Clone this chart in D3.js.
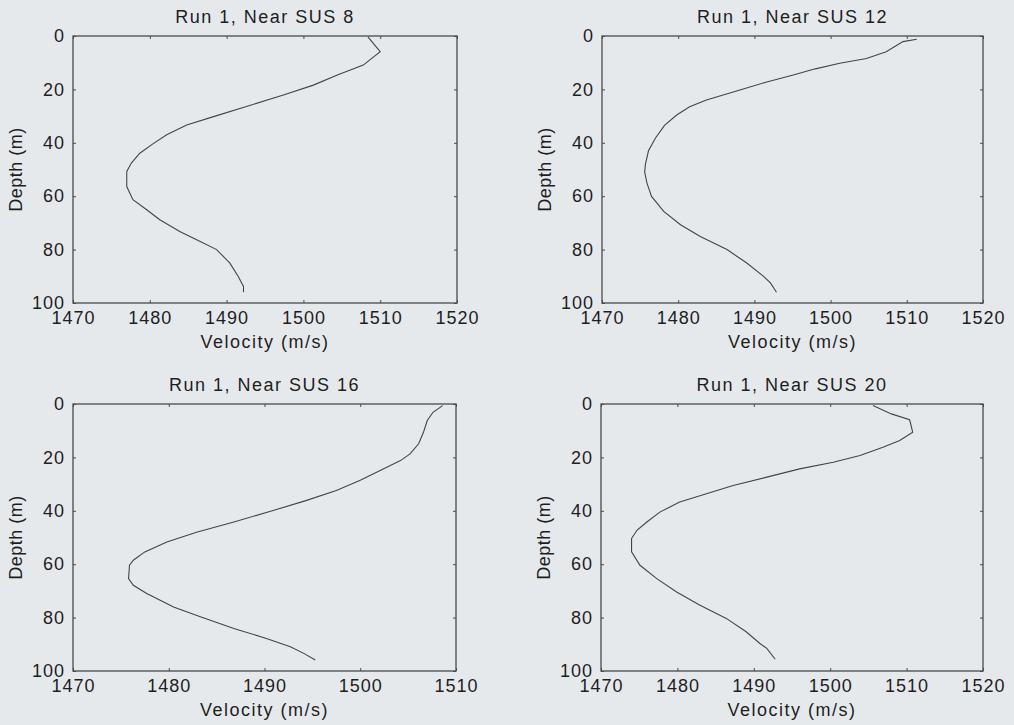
<!DOCTYPE html>
<html>
<head>
<meta charset="utf-8">
<script src="https://cdn.jsdelivr.net/npm/d3@7"></script>
<style>
  html, body { margin: 0; padding: 0; background: #e6e9ec; }
  svg { display: block; font-family: "Liberation Sans", Arial, sans-serif; }
  .axis path, .axis line { stroke: #4a4a4a; }
  .axis text { fill: #1e1e1e; font-size: 18px; letter-spacing: 1px; }
  .lbl { fill: #1e1e1e; font-size: 18px; letter-spacing: 1.5px; }
</style>
</head>
<body>
<script>
// Sound velocity profiles (velocity m/s, depth m)
const sus8Vel = [1508.4, 1510.0, 1507.8, 1504.5, 1501.3, 1497.5, 1493.0, 1488.3, 1484.8, 1482.2, 1480.4, 1478.7, 1477.6, 1477.0, 1477.0, 1477.8, 1479.6, 1481.3, 1483.9, 1486.5, 1488.7, 1490.4, 1491.5, 1492.2, 1492.2];
const sus8Dep = [0.3, 5.9, 10.9, 14.5, 18.4, 22.0, 26.0, 30.2, 33.3, 37.0, 40.4, 43.9, 47.6, 50.7, 56.4, 61.3, 65.1, 68.8, 73.2, 76.9, 80.0, 85.0, 90.0, 93.8, 96.0];

const sus12Vel = [1511.3, 1509.5, 1507.3, 1504.7, 1501.2, 1498.0, 1495.1, 1491.5, 1488.1, 1483.7, 1481.5, 1479.8, 1478.2, 1477.0, 1476.1, 1475.7, 1475.6, 1475.9, 1476.5, 1478.1, 1480.3, 1482.9, 1486.4, 1489.0, 1491.2, 1492.1, 1492.9];
const sus12Dep = [1.2, 2.1, 5.9, 8.4, 10.2, 12.3, 14.6, 17.3, 20.2, 24.0, 26.5, 29.6, 33.5, 38.3, 43.0, 48.0, 51.0, 55.1, 60.1, 65.7, 70.7, 75.1, 80.0, 85.0, 90.0, 92.5, 96.0];

const sus16Vel = [1508.6, 1507.6, 1507.0, 1506.6, 1506.1, 1505.2, 1504.2, 1502.4, 1500.0, 1497.5, 1494.4, 1490.9, 1486.8, 1482.9, 1479.8, 1477.5, 1476.3, 1475.9, 1475.8, 1476.3, 1477.7, 1480.5, 1483.3, 1486.8, 1490.2, 1492.7, 1494.1, 1495.3];
const sus16Dep = [0.6, 3.1, 6.2, 10.6, 14.9, 18.7, 21.2, 24.3, 28.6, 32.4, 36.1, 39.9, 44.2, 48.0, 51.7, 55.4, 58.5, 60.4, 65.4, 67.9, 71.0, 76.0, 79.7, 84.1, 87.8, 90.9, 93.4, 95.9];

const sus20Vel = [1505.6, 1508.0, 1510.4, 1510.8, 1509.1, 1506.9, 1503.9, 1500.4, 1496.0, 1491.7, 1487.3, 1483.8, 1480.3, 1477.7, 1476.0, 1474.7, 1474.0, 1474.0, 1475.1, 1477.3, 1479.9, 1482.9, 1486.4, 1489.0, 1490.8, 1491.7, 1492.8];
const sus20Dep = [0.6, 3.7, 5.9, 10.6, 13.7, 16.2, 19.3, 21.8, 24.3, 27.4, 30.5, 33.6, 36.7, 40.5, 44.2, 47.3, 50.4, 55.4, 60.4, 65.4, 70.4, 75.3, 80.3, 85.3, 89.7, 91.5, 95.6];

const titles = ["Run 1, Near SUS 8", "Run 1, Near SUS 12", "Run 1, Near SUS 16", "Run 1, Near SUS 20"];
const velDomains = [[1470, 1520], [1470, 1520], [1470, 1510], [1470, 1520]];
const depthTicks = [0, 20, 40, 60, 80, 100];
const xLabel = "Velocity (m/s)";
const yLabel = "Depth (m)";

const profiles = [
  { vel: sus8Vel, dep: sus8Dep },
  { vel: sus12Vel, dep: sus12Dep },
  { vel: sus16Vel, dep: sus16Dep },
  { vel: sus20Vel, dep: sus20Dep }
];

// panel boxes in page pixels
const boxes = [
  { left: 73, right: 457, top: 36, bottom: 303 },
  { left: 602, right: 983, top: 36, bottom: 303 },
  { left: 73, right: 456, top: 404, bottom: 671 },
  { left: 601, right: 983, top: 404, bottom: 671 }
];

const svg = d3.select("body").append("svg")
    .attr("width", 1014)
    .attr("height", 725);

svg.append("rect")
    .attr("width", 1014)
    .attr("height", 725)
    .attr("fill", "#e6e9ec");

profiles.forEach((p, i) => {
    const b = boxes[i],
        width = b.right - b.left,
        height = b.bottom - b.top;

    const xScale = d3.scaleLinear().domain(velDomains[i]).range([0, width]);
    const yScale = d3.scaleLinear().domain([0, 100]).range([0, height]);
    const xTicks = d3.range(velDomains[i][0], velDomains[i][1] + 1, 10);

    const g = svg.append("g")
        .attr("transform", "translate(" + b.left + "," + b.top + ")");

    // box
    g.append("rect")
        .attr("width", width)
        .attr("height", height)
        .attr("fill", "none")
        .attr("stroke", "#4a4a4a")
        .attr("stroke-width", 1.3);

    // bottom + left axes, inward ticks
    g.append("g")
        .attr("class", "axis")
        .attr("transform", "translate(0," + height + ")")
        .call(d3.axisBottom(xScale).tickValues(xTicks).tickSize(-3).tickSizeOuter(0).tickPadding(8).tickFormat(d3.format("d")))
        .call(a => a.select(".domain").remove());

    g.append("g")
        .attr("class", "axis")
        .call(d3.axisLeft(yScale).tickValues(depthTicks).tickSize(-3).tickSizeOuter(0).tickPadding(8))
        .call(a => a.select(".domain").remove());

    // mirrored ticks on top + right
    g.append("g")
        .attr("class", "axis")
        .call(d3.axisTop(xScale).tickValues(xTicks).tickSize(-3).tickFormat(""))
        .call(a => a.select(".domain").remove());

    g.append("g")
        .attr("class", "axis")
        .attr("transform", "translate(" + width + ",0)")
        .call(d3.axisRight(yScale).tickValues(depthTicks).tickSize(-3).tickFormat(""))
        .call(a => a.select(".domain").remove());

    // profile line
    const line = d3.line()
        .x(d => xScale(d))
        .y((d, j) => yScale(p.dep[j]));

    g.append("path")
        .datum(p.vel)
        .attr("d", line)
        .attr("fill", "none")
        .attr("stroke", "#444")
        .attr("stroke-width", 1.1);

    // labels
    g.append("text")
        .attr("class", "lbl")
        .attr("x", width / 2)
        .attr("y", -13)
        .attr("text-anchor", "middle")
        .text(titles[i]);

    g.append("text")
        .attr("class", "lbl")
        .attr("x", width / 2)
        .attr("y", height + 45)
        .attr("text-anchor", "middle")
        .text(xLabel);

    g.append("text")
        .attr("class", "lbl")
        .attr("transform", "rotate(-90)")
        .attr("x", -height / 2)
        .attr("y", -51)
        .attr("text-anchor", "middle")
        .style("letter-spacing", "0.5px")
        .text(yLabel);
});
</script>
</body>
</html>
